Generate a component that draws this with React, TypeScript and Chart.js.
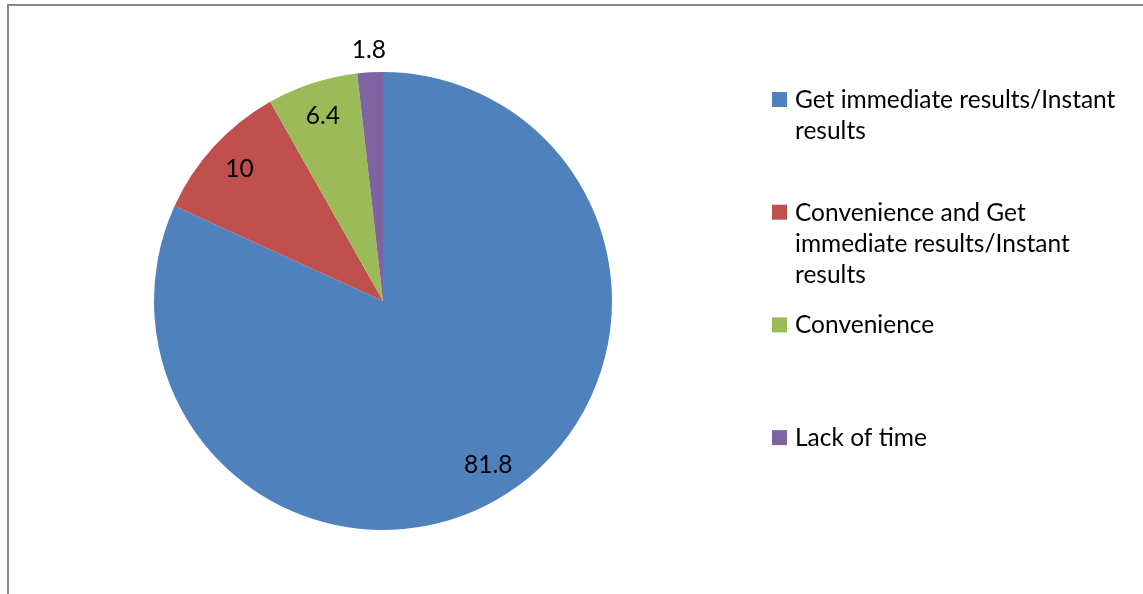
import { useEffect, useRef } from "react";
import { Chart, registerables } from "chart.js";

Chart.register(...registerables);

const categories: string[][] = [
  ["Get immediate results/Instant", "results"],
  ["Convenience and Get", "immediate results/Instant", "results"],
  ["Convenience"],
  ["Lack of time"],
];
const values: number[] = [81.8, 10, 6.4, 1.8];
const colors: string[] = ["#4F81BD", "#C0504D", "#9BBB59", "#8064A2"];

const FONT_FAMILY = "Lato, 'Open Sans', sans-serif";
const FONT_SIZE = 24.5;
const W = 1143;
const H = 594;

const framePlugin = {
  id: "frame",
  beforeDraw(chart: any) {
    const ctx = chart.ctx;
    ctx.save();
    ctx.fillStyle = "#ffffff";
    ctx.fillRect(0, 0, chart.width, chart.height);
    ctx.strokeStyle = "#868686";
    ctx.lineWidth = 2;
    ctx.beginPath();
    ctx.moveTo(8, H);
    ctx.lineTo(8, 5);
    ctx.lineTo(W, 5);
    ctx.stroke();
    ctx.restore();
  },
};

const valueLabelPlugin = {
  id: "valueLabels",
  afterDatasetsDraw(chart: any) {
    const ctx = chart.ctx;
    const meta = chart.getDatasetMeta(0);
    const data = chart.data.datasets[0].data as number[];
    ctx.save();
    ctx.fillStyle = "#000000";
    ctx.font = `${FONT_SIZE}px ${FONT_FAMILY}`;
    ctx.textAlign = "center";
    ctx.textBaseline = "middle";
    meta.data.forEach((arc: any, i: number) => {
      const p = arc.getProps(["x", "y", "startAngle", "endAngle", "outerRadius"], true);
      const mid = (p.startAngle + p.endAngle) / 2;
      const r = data[i] < 3 ? p.outerRadius + 22 : p.outerRadius * 0.85;
      ctx.fillText(String(data[i]), p.x + Math.cos(mid) * r, p.y + Math.sin(mid) * r);
    });
    ctx.restore();
  },
};

const legendPlugin = {
  id: "sideLegend",
  afterDraw(chart: any) {
    const ctx = chart.ctx;
    const labels = chart.data.labels as string[][];
    const bg = chart.data.datasets[0].backgroundColor as string[];
    ctx.save();
    ctx.font = `${FONT_SIZE}px ${FONT_FAMILY}`;
    ctx.textAlign = "left";
    ctx.textBaseline = "alphabetic";
    labels.forEach((lines, i) => {
      const base = 108 + 112.7 * i;
      ctx.fillStyle = bg[i];
      ctx.fillRect(772, base - 16, 15, 15);
      ctx.fillStyle = "#000000";
      lines.forEach((line, j) => {
        ctx.fillText(line, 795, base + j * 31);
      });
    });
    ctx.restore();
  },
};

export default function App() {
  const ref = useRef<HTMLCanvasElement | null>(null);
  useEffect(() => {
    if (!ref.current) return;
    const chart = new Chart(ref.current, {
      type: "pie",
      data: {
        labels: categories,
        datasets: [
          {
            data: values,
            backgroundColor: colors,
            borderWidth: 0,
          },
        ],
      },
      options: {
        responsive: false,
        animation: false,
        layout: { padding: { left: 154, right: 531, top: 72, bottom: 64 } },
        plugins: {
          legend: { display: false },
          tooltip: { enabled: false },
        },
      },
      plugins: [framePlugin, valueLabelPlugin, legendPlugin],
    });
    return () => chart.destroy();
  }, []);
  return (
    <div style={{ position: "absolute", left: 0, top: 0, width: W, height: H }}>
      <canvas ref={ref} width={W} height={H} style={{ display: "block" }} />
    </div>
  );
}
